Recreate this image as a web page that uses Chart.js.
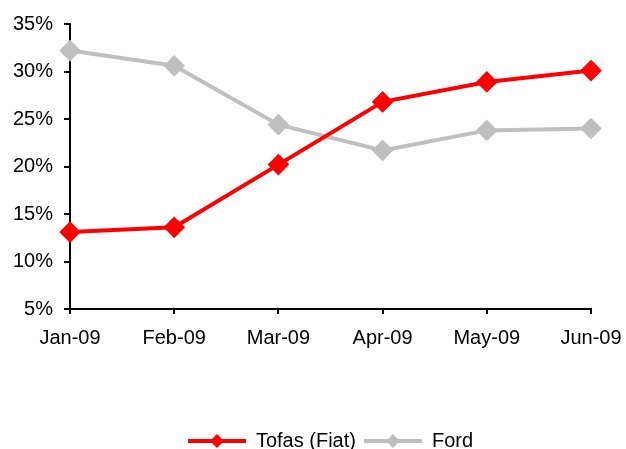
<!DOCTYPE html>
<html lang="en">
<head>
  <meta charset="UTF-8">
  <title>Tofas vs Ford</title>
  <script src="https://cdn.jsdelivr.net/npm/chart.js@4.4.0/dist/chart.umd.min.js"></script>
  <style>
    html, body { margin: 0; padding: 0; background: #fff; }
    #wrap { width: 626px; height: 449px; }
  </style>
</head>
<body>
  <div id="wrap"><canvas id="grafico" width="626" height="449"></canvas></div>

<script>
  var meses = ["Jan-09", "Feb-09", "Mar-09", "Apr-09", "May-09", "Jun-09"];
  var tofas = [13.1, 13.6, 20.2, 26.8, 28.9, 30.1];
  var ford = [32.2, 30.6, 24.4, 21.7, 23.8, 24.0];
  var yTicks = [5, 10, 15, 20, 25, 30, 35];

  var vermelho = "#ff0000";
  var cinza = "#bfbfbf";
  var fonte = "'Liberation Sans', Arial, sans-serif";

  // icone da legenda: linha + losango
  function iconeLegenda(cor) {
    let c = document.createElement("canvas");
    c.width = 58;
    c.height = 16;
    let ctx = c.getContext("2d");
    ctx.strokeStyle = cor;
    ctx.lineWidth = 4;
    ctx.beginPath();
    ctx.moveTo(0, 8);
    ctx.lineTo(58, 8);
    ctx.stroke();
    ctx.fillStyle = cor;
    ctx.beginPath();
    ctx.moveTo(29, 1);
    ctx.lineTo(36, 8);
    ctx.lineTo(29, 15);
    ctx.lineTo(22, 8);
    ctx.closePath();
    ctx.fill();
    return c;
  }

  Chart.defaults.font.family = fonte;
  Chart.defaults.font.size = 20;
  Chart.defaults.color = "#000";

  let linha = document.getElementById("grafico").getContext("2d");
  let grafico = new Chart(linha, {
    type: "line",
    data: {
      labels: meses,
      datasets: [{
        label: "Ford",
        data: ford,
        borderColor: cinza,
        backgroundColor: cinza,
        borderWidth: 4,
        pointStyle: "rectRot",
        pointRadius: 8,
        pointHoverRadius: 8,
        tension: 0,
        fill: false,
        order: 2,
        legendIcon: iconeLegenda(cinza)
      }, {
        label: "Tofas (Fiat)",
        data: tofas,
        borderColor: vermelho,
        backgroundColor: vermelho,
        borderWidth: 4,
        pointStyle: "rectRot",
        pointRadius: 8,
        pointHoverRadius: 8,
        tension: 0,
        fill: false,
        order: 1,
        legendIcon: iconeLegenda(vermelho)
      }]
    },
    options: {
      responsive: false,
      animation: false,
      layout: {
        padding: { left: 0, right: 35, top: 24, bottom: -12 }
      },
      plugins: {
        tooltip: { enabled: false },
        legend: {
          position: "bottom",
          fullSize: false,
          reverse: true,
          labels: {
            usePointStyle: true,
            pointStyleWidth: 58,
            padding: 8,
            font: { size: 20, family: fonte },
            color: "#000",
            generateLabels: function (chart) {
              return chart.data.datasets.map(function (ds, i) {
                return {
                  text: ds.label,
                  pointStyle: ds.legendIcon,
                  fillStyle: ds.borderColor,
                  strokeStyle: ds.borderColor,
                  lineWidth: 0,
                  hidden: false,
                  datasetIndex: i
                };
              });
            }
          }
        }
      },
      scales: {
        x: {
          offset: false,
          grid: {
            drawOnChartArea: false,
            drawTicks: true,
            tickLength: 5,
            color: "#000",
            lineWidth: 2
          },
          border: { display: true, color: "#000", width: 2 },
          ticks: { padding: 12, font: { size: 20, family: fonte }, color: "#000", maxRotation: 0 },
          afterFit: function (scale) {
            scale.height = 114;
            scale.paddingLeft = 0;
            scale.paddingRight = 0;
          }
        },
        y: {
          min: 5,
          max: 35,
          afterBuildTicks: function (scale) {
            scale.ticks = yTicks.map(function (v) { return { value: v }; });
          },
          grid: {
            drawOnChartArea: false,
            drawTicks: true,
            tickLength: 6,
            color: "#000",
            lineWidth: 2
          },
          border: { display: true, color: "#000", width: 2 },
          ticks: {
            padding: 11,
            font: { size: 20, family: fonte },
            color: "#000",
            callback: function (v) { return v + "%"; }
          },
          afterFit: function (scale) { scale.width = 70; }
        }
      }
    }
  });
</script>
</body>
</html>
